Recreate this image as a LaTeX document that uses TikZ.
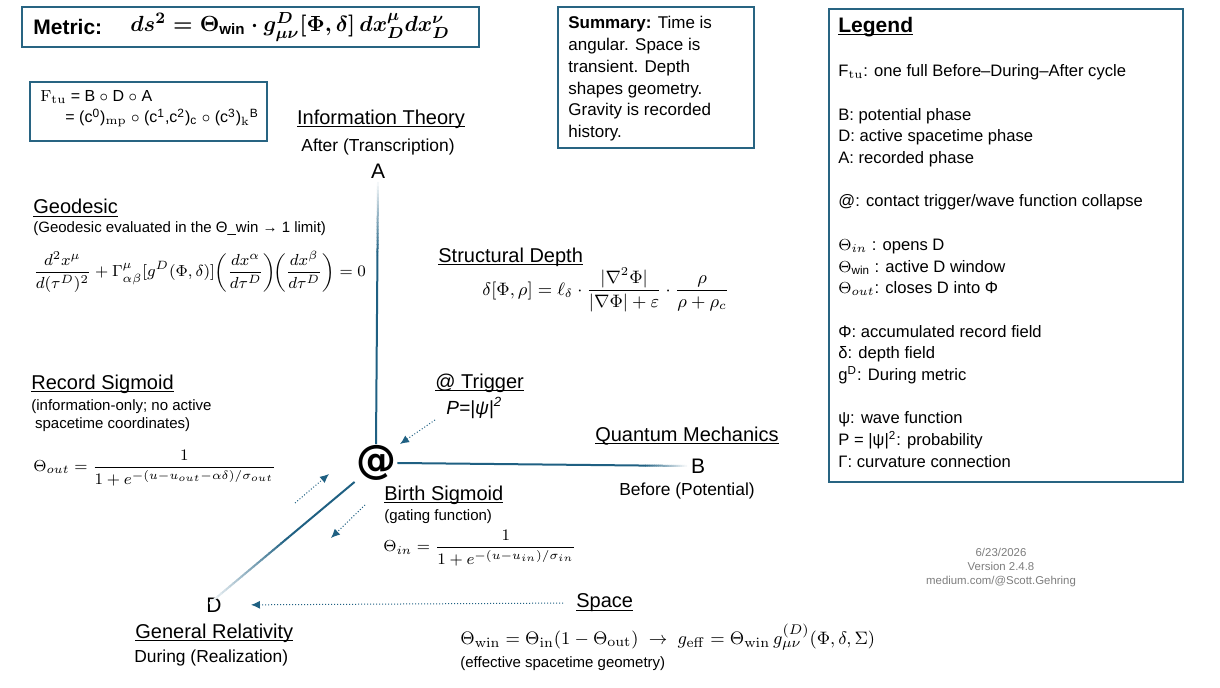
\documentclass[tikz,border=0pt]{standalone}
\usepackage{amsmath}
\usepackage[no-math]{fontspec}
\setmainfont{Liberation Sans}
\newfontfamily\hubfont{DejaVu Sans}
\usetikzlibrary{calc,arrows.meta}
\definecolor{axisblue}{RGB}{31,96,130}
\definecolor{boxblue}{RGB}{40,100,130}
\definecolor{stampgray}{RGB}{125,125,125}
\newcommand{\ulword}[1]{\setbox0=\hbox{#1}\rlap{\rule[-1.3pt]{\wd0}{0.45pt}}\box0}
\tikzset{
  frame/.style={draw=boxblue, line width=0.6pt},
  axis/.style={line width=1pt, axisblue},
  heading/.style={font=\fontsize{10}{12}\selectfont, inner sep=0pt},
  sub/.style={font=\fontsize{8.7}{10.5}\selectfont, inner sep=0pt},
  note/.style={font=\fontsize{7.5}{9}\selectfont, inner sep=0pt, align=left},
  eq/.style={inner sep=0pt},
  pole/.style={font=\fontsize{10.5}{12}\selectfont, inner sep=2pt},
  hint/.style={axisblue, densely dotted, line width=0.5pt, -{Latex[length=4.5pt,width=4pt]}},
}
\newcommand{\fadeline}[3]{%
  \draw[axis] (#1) -- ($(#1)!#3!(#2)$);
  \foreach \k in {0,...,19}{
    \pgfmathsetmacro{\ta}{#3+(1-#3)*\k/20}
    \pgfmathsetmacro{\tb}{#3+(1-#3)*(\k+1.2)/20}
    \pgfmathsetmacro{\mix}{100-5*\k}
    \draw[axis, color=axisblue!\mix!white] ($(#1)!\ta!(#2)$) -- ($(#1)!\tb!(#2)$);
  }}
\begin{document}
\begin{tikzpicture}[x=0.5pt, y=-0.5pt]
\useasboundingbox (0,0) rectangle (1220,688);

\draw[frame] (22,7) rectangle (479,47);
\node[anchor=west, inner sep=0pt, font=\fontsize{10.5}{12}\selectfont\bfseries] (metric) at (33,27) {Metric:};
\node[anchor=west, inner sep=0pt, font=\fontsize{10.8}{12}\selectfont\boldmath] (metriceq) at (130,27) {$ds^2 = \Theta_{\textbf{win}}\cdot g^{D}_{\mu\nu}[\Phi,\delta]\,dx^{\mu}_{D}dx^{\nu}_{D}$};

\draw[frame] (30,82) rectangle (267,141);
\node[anchor=west, inner sep=0pt, font=\fontsize{8}{10}\selectfont] (ftu) at (40,97) {$\mathrm{F}_{\mathrm{tu}}$ = B $\circ$ D $\circ$ A};
\node[anchor=west, inner sep=0pt, font=\fontsize{8}{10}\selectfont] (ftuchain) at (65,118) {= (c\textsuperscript{0})$_{\mathrm{mp}}$ $\circ$ (c\textsuperscript{1},c\textsuperscript{2})\textsubscript{c} $\circ$ (c\textsuperscript{3})$_{\mathrm{k}}$\textsuperscript{B}};

\draw[frame] (558,7) rectangle (754,148);
\node[anchor=north west, inner sep=0pt, align=left, font=\fontsize{8.5}{10.9}\selectfont] (summary) at (568,16) {\textbf{Summary:} Time is\\angular. Space is\\transient. Depth\\shapes geometry.\\Gravity is recorded\\history.};

\draw[frame] (829,9) rectangle (1183,482);
\node[anchor=west, inner sep=0pt, font=\fontsize{10.5}{12}\selectfont\bfseries] (legendhead) at (838,27) {\ulword{Legend}};
\node[anchor=north west, inner sep=0pt, align=left, font=\fontsize{8.3}{10.85}\selectfont] (legendbody) at (838,64) {%
F$_{\mathrm{tu}}$: one full Before--During--After cycle\\[11pt]
B: potential phase\\
D: active spacetime phase\\
A: recorded phase\\[10.85pt]
@: contact trigger/wave function collapse\\[10.85pt]
$\Theta_{in}$ : opens D\\
$\Theta$\textsubscript{win} : active D window\\
$\Theta_{out}$: closes D into Φ\\[10.85pt]
Φ: accumulated record field\\
δ: depth field\\
g\textsuperscript{D}: During metric\\[10.85pt]
ψ: wave function\\
P = |ψ|\textsuperscript{2}: probability\\
Γ: curvature connection};

\node[heading] (ithead) at (381,119) {\ulword{Information Theory}};
\node[sub] (itsub) at (378,147) {After (Transcription)};
\node[pole] (A) at (378,171) {A};

\node[heading, anchor=west] (geohead) at (33,208) {\ulword{Geodesic}};
\node[note, anchor=west] (geonote) at (33,229) {(Geodesic evaluated in the Θ\_win → 1 limit)};
\node[eq, anchor=west, font=\fontsize{8.2}{11}\selectfont] (geoeq) at (33,272) {$\displaystyle \frac{d^2x^{\mu}}{d(\tau^{D})^2} + \Gamma^{\mu}_{\alpha\beta}[g^{D}(\Phi,\delta)]\!\left(\frac{dx^{\alpha}}{d\tau^{D}}\right)\!\!\left(\frac{dx^{\beta}}{d\tau^{D}}\right) = 0$};

\node[heading, anchor=west] (depthhead) at (438,257) {\ulword{Structural Depth}};
\node[eq, anchor=west, font=\fontsize{9.1}{11}\selectfont] (deptheq) at (482,290) {$\displaystyle \delta[\Phi,\rho] = \ell_{\delta}\cdot\frac{|\nabla^2\Phi|}{|\nabla\Phi|+\varepsilon}\cdot\frac{\rho}{\rho+\rho_c}$};

\node[heading, anchor=west] (trighead) at (435,383) {\ulword{@ Trigger}};
\node[anchor=west, inner sep=0pt, font=\fontsize{9.5}{11}\selectfont\itshape] (trigp) at (446,408) {P=|ψ|\textsuperscript{2}};

\node[heading, anchor=west] (rechead) at (31,384) {\ulword{Record Sigmoid}};
\node[note, anchor=north west] (recnote) at (31,399) {(information-only; no active\\\hspace*{0.25em}spacetime coordinates)};
\node[eq, anchor=west, font=\fontsize{8.1}{10}\selectfont] (receq) at (33,468) {$\displaystyle \Theta_{out} = \frac{1}{1+e^{-(u-u_{out}-\alpha\delta)/\sigma_{out}}}$};

\node[heading] (qmhead) at (687,436) {\ulword{Quantum Mechanics}};
\node[pole] (B) at (698,466) {B};
\node[sub] (Bsub) at (687,491) {Before (Potential)};

\node[font=\fontsize{20}{22}\hubfont\bfseries, inner sep=0.5pt] (hub) at (376,463) {@};

\node[heading, anchor=west] (birthhead) at (384,495) {\ulword{Birth Sigmoid}};
\node[note, anchor=west] (birthnote) at (384,517) {(gating function)};
\node[eq, anchor=west, font=\fontsize{8.1}{10}\selectfont] (birtheq) at (383,548) {$\displaystyle \Theta_{in} = \frac{1}{1+e^{-(u-u_{in})/\sigma_{in}}}$};

\node[pole] (D) at (214,605) {D};
\node[heading, anchor=west] (grhead) at (135,633) {\ulword{General Relativity}};
\node[sub, anchor=west] (grsub) at (134,658) {During (Realization)};

\node[heading, anchor=west] (spacehead) at (576,603) {\ulword{Space}};
\node[eq, anchor=west, font=\fontsize{9.3}{11}\selectfont] (spaceeq) at (460,637) {$\Theta_{\mathrm{win}} = \Theta_{\mathrm{in}}(1-\Theta_{\mathrm{out}}) \;\to\; g_{\mathrm{eff}} = \Theta_{\mathrm{win}}\, g^{(D)}_{\mu\nu}(\Phi,\delta,\Sigma)$};
\node[note, anchor=west] (spacenote) at (460,664) {(effective spacetime geometry)};

\node[align=center, inner sep=0pt, text=stampgray, font=\fontsize{5.7}{7}\selectfont] (stamp) at (1001,568) {6/23/2026\\Version 2.4.8\\medium.com/@Scott.Gehring};

\fadeline{hub.north}{A.south}{0.72}
\fadeline{hub.east}{B.west}{0.85}
\coordinate (dtail) at (210,603);
\fadeline{hub.south west}{dtail}{0.45}

\coordinate (trigtail) at (435,420);
\coordinate (trigtip) at (400,444);
\draw[hint] (trigtail) -- (trigtip);
\coordinate (uptail) at (295,503);
\coordinate (uptip) at (329,474);
\draw[hint] (uptail) -- (uptip);
\coordinate (downtail) at (365,505);
\coordinate (downtip) at (331,538);
\draw[hint] (downtail) -- (downtip);
\draw[hint, shorten <=6.5pt, shorten >=12.5pt] (spacehead.west) -- (D.east);
\end{tikzpicture}
\end{document}
